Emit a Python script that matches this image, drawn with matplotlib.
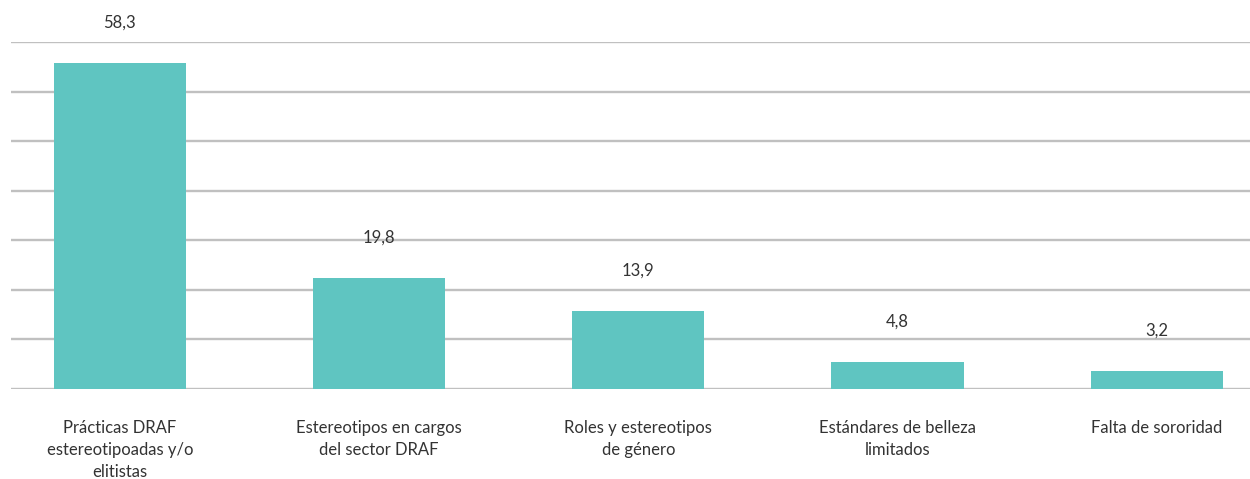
import matplotlib.pyplot as plt
import numpy as np

categorias = [
    "Prácticas DRAF\nestereotipoadas y/o\nelitistas",
    "Estereotipos en cargos\ndel sector DRAF",
    "Roles y estereotipos\nde género",
    "Estándares de belleza\nlimitados",
    "Falta de sororidad",
]
valores = [58.3, 19.8, 13.9, 4.8, 3.2]
etiquetas = ["58,3", "19,8", "13,9", "4,8", "3,2"]

plt.rcParams["font.family"] = ["Lato", "DejaVu Sans"]

fig = plt.figure(figsize=(12.5, 4.79), dpi=100)
ax = fig.add_axes([11 / 1250, 1 - 389 / 479, 1239 / 1250, 347 / 479])

x = np.arange(len(valores))
bars = ax.bar(x, valores, width=0.51, color="#5fc5c1", zorder=3)

# etiquetas de valor encima de cada barra
for xi, v, lab in zip(x, valores, etiquetas):
    ax.annotate(lab, (xi, v), xytext=(0, 29), textcoords="offset points",
                ha="center", va="center", fontsize=12, color="#333333")

ax.set_xlim(-0.42, 4.36)
ax.set_ylim(0, 62)
ax.set_yticks(np.linspace(0, 62, 8))
ax.yaxis.grid(True, color="#c0c0c0", linewidth=1.7, zorder=0)
ax.set_yticklabels([])
ax.tick_params(axis="y", length=0)
ax.set_xticks(x)
ax.set_xticklabels(categorias, fontsize=12, color="#333333", linespacing=1.48)
ax.tick_params(axis="x", length=0, pad=22)
for s in ax.spines.values():
    s.set_visible(False)

fig.savefig("out.png", dpi=100)
